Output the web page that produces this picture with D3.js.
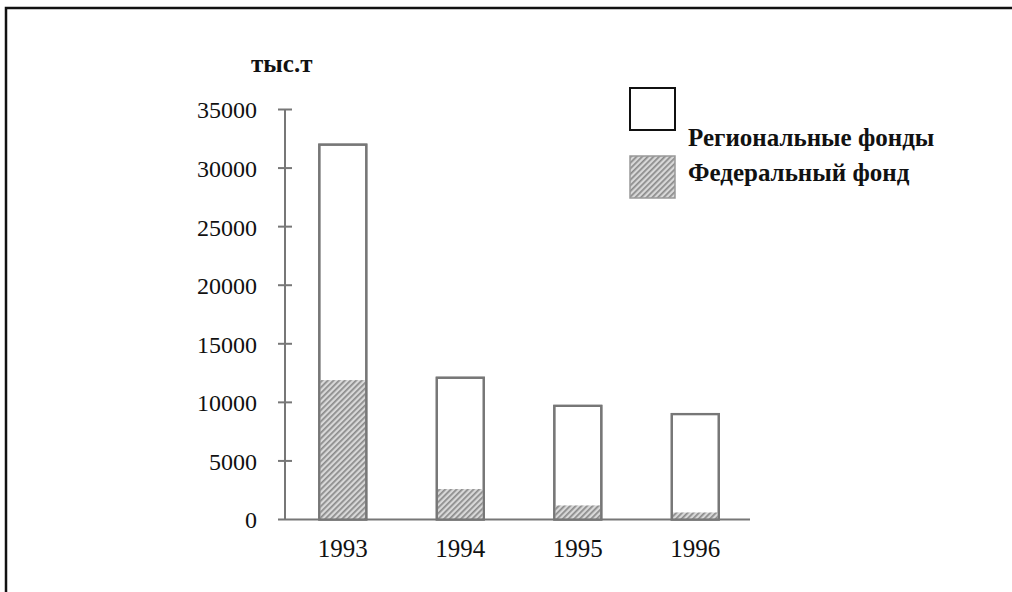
<!DOCTYPE html>
<html>
<head>
<meta charset="utf-8">
<script src="https://cdn.jsdelivr.net/npm/d3@7"></script>
<style>
  html, body { margin: 0; padding: 0; background: #fff; }
  svg { display: block; }
  text { font-family: "Liberation Serif", "Times New Roman", serif; fill: #111; }
</style>
</head>
<body>
<svg id="chart" width="1012" height="592"></svg>
<script>
// Фонды, тыс. т
const years = ["1993", "1994", "1995", "1996"];
const federal = [11900, 2600, 1200, 600];
const regional = [20100, 9500, 8500, 8400];
const yTicks = [0, 5000, 10000, 15000, 20000, 25000, 30000, 35000];
const seriesNames = ["Региональные фонды", "Федеральный фонд"];
const unitLabel = "тыс.т";

const serif = "'Liberation Serif', 'Times New Roman', serif";
const svg = d3.select("#chart");

// hatching for the federal part
const defs = svg.append("defs");
const pat = defs.append("pattern")
  .attr("id", "hatch")
  .attr("patternUnits", "userSpaceOnUse")
  .attr("width", 4).attr("height", 4)
  .attr("patternTransform", "rotate(45)");
pat.append("rect").attr("width", 4).attr("height", 4).attr("fill", "#d8d8d8");
pat.append("rect").attr("x", 0).attr("width", 1.7).attr("height", 4).attr("fill", "#8a8a8a");

// frame
svg.append("path")
  .attr("d", "M6,592 V8 H1012")
  .attr("fill", "none").attr("stroke", "#111").attr("stroke-width", 2.5);

const y = d3.scaleLinear().domain([0, 35000]).range([519.5, 109.5]);
const x = d3.scaleBand().domain(years).range([319.3, 718.8])
  .paddingInner(0.6).paddingOuter(0);

const stack = years.map((yr, i) => ({ year: yr, fed: federal[i], total: federal[i] + regional[i] }));

const axisColor = "#777";

// y axis
const yAxis = svg.append("g").attr("transform", "translate(285,0)")
  .call(d3.axisLeft(y).tickValues(yTicks).tickSize(0).tickFormat(d3.format("d")));
yAxis.attr("font-family", serif);
yAxis.select(".domain").remove();
yAxis.selectAll("text")
  .attr("x", -28).attr("dy", "0.35em")
  .style("font-size", "24px").style("font-family", serif).attr("fill", "#111");
svg.append("line").attr("x1", 285).attr("x2", 285)
  .attr("y1", y(35000)).attr("y2", y(0))
  .attr("stroke", axisColor).attr("stroke-width", 2);
svg.selectAll(".ytick").data(yTicks.filter(d => d > 0)).join("line")
  .attr("class", "ytick")
  .attr("x1", 278).attr("x2", 292)
  .attr("y1", d => y(d)).attr("y2", d => y(d))
  .attr("stroke", axisColor).attr("stroke-width", 2);

// x axis
svg.append("line").attr("x1", 278).attr("x2", 750)
  .attr("y1", y(0)).attr("y2", y(0))
  .attr("stroke", axisColor).attr("stroke-width", 2);
const xAxis = svg.append("g").attr("transform", `translate(0,${y(0)})`)
  .call(d3.axisBottom(x).tickSize(0));
xAxis.attr("font-family", serif);
xAxis.select(".domain").remove();
xAxis.selectAll("text")
  .attr("y", 37).attr("dy", "0")
  .style("font-size", "25px").style("font-family", serif).attr("fill", "#111");

// bars
const bars = svg.append("g");
bars.selectAll(".total").data(stack).join("rect")
  .attr("class", "total")
  .attr("x", d => x(d.year)).attr("width", x.bandwidth())
  .attr("y", d => y(d.total)).attr("height", d => y(0) - y(d.total))
  .attr("fill", "#fff").attr("stroke", axisColor).attr("stroke-width", 2.2);
bars.selectAll(".fed").data(stack).join("rect")
  .attr("class", "fed")
  .attr("x", d => x(d.year) + 1.1).attr("width", x.bandwidth() - 2.2)
  .attr("y", d => y(d.fed)).attr("height", d => y(0) - y(d.fed))
  .attr("fill", "url(#hatch)");
// outline drawn again over the hatching
bars.selectAll(".outline").data(stack).join("rect")
  .attr("class", "outline")
  .attr("x", d => x(d.year)).attr("width", x.bandwidth())
  .attr("y", d => y(d.total)).attr("height", d => y(0) - y(d.total))
  .attr("fill", "none").attr("stroke", axisColor).attr("stroke-width", 2.2);

// unit label
svg.append("text").attr("x", 251).attr("y", 72)
  .style("font-size", "25px").style("font-weight", "bold").style("font-family", serif)
  .text(unitLabel);

// legend
const legend = svg.append("g");
legend.append("rect").attr("x", 630).attr("y", 88).attr("width", 45).attr("height", 42)
  .attr("fill", "#fff").attr("stroke", "#111").attr("stroke-width", 2);
legend.append("rect").attr("x", 630).attr("y", 156).attr("width", 45).attr("height", 42)
  .attr("fill", "url(#hatch)").attr("stroke", "#999").attr("stroke-width", 1.5);
legend.selectAll(".ltext").data(seriesNames).join("text")
  .attr("class", "ltext")
  .attr("x", 688).attr("y", (d, i) => 146 + i * 35)
  .style("font-size", "25px").style("font-weight", "bold").style("font-family", serif)
  .text(d => d);
</script>
</body>
</html>
